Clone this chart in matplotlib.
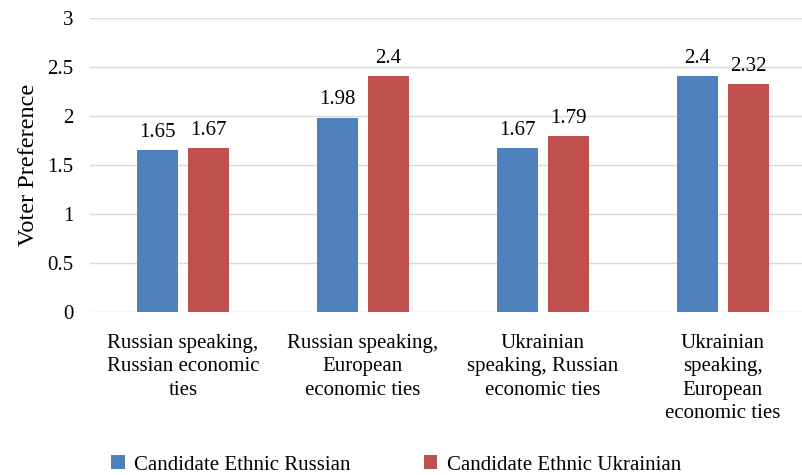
import matplotlib.pyplot as plt
import numpy as np

plt.rcParams['font.family'] = ['Liberation Serif', 'DejaVu Serif']

categories = ["Russian speaking,\nRussian economic\nties",
              "Russian speaking,\nEuropean\neconomic ties",
              "Ukrainian\nspeaking, Russian\neconomic ties",
              "Ukrainian\nspeaking,\nEuropean\neconomic ties"]
ethnic_russian = [1.65, 1.98, 1.67, 2.4]
ethnic_ukrainian = [1.67, 2.4, 1.79, 2.32]
series_names = ["Candidate Ethnic Russian", "Candidate Ethnic Ukrainian"]

blue = '#4F81BD'
red = '#C0504D'

fig = plt.figure(figsize=(8.02, 4.75), dpi=100)
ax = fig.add_axes([0.112, 0.343, 0.888, 0.62])

x = np.arange(len(categories))
w = 0.228
b1 = ax.bar(x - 0.143, ethnic_russian, w, color=blue, label=series_names[0], zorder=3)
b2 = ax.bar(x + 0.143, ethnic_ukrainian, w, color=red, label=series_names[1], zorder=3)

# value labels above each bar
for bars, vals in [(b1, ethnic_russian), (b2, ethnic_ukrainian)]:
    for rect, v in zip(bars, vals):
        ax.annotate(f"{v:g}", (rect.get_x() + rect.get_width() / 2, v),
                    xytext=(0, 6), textcoords='offset points',
                    ha='center', va='bottom', fontsize=15)

ax.set_xlim(-0.517, 3.44)
ax.set_ylim(0, 3)
ax.set_yticks(np.arange(0, 3.01, 0.5))
ax.set_yticklabels(["0", "0.5", "1", "1.5", "2", "2.5", "3"])
ax.set_xticks(x)
ax.set_xticklabels(categories, fontsize=15, linespacing=1.3)
ax.tick_params(axis='y', labelsize=15, length=0, pad=12)
ax.tick_params(axis='x', length=0, pad=16)
ax.grid(axis='y', color='#D9D9D9', linewidth=1, zorder=0)
for s in ax.spines.values():
    s.set_visible(False)
ax.set_ylabel("Voter Preference", fontsize=17.5, labelpad=6)

fig.legend(handles=[b1, b2], labels=series_names, loc='center',
           bbox_to_anchor=(0.494, 0.021), ncol=2, frameon=False,
           fontsize=15, handlelength=0.65, handleheight=0.65,
           handletextpad=0.45, columnspacing=3.5)

fig.savefig("out.png", dpi=100)
